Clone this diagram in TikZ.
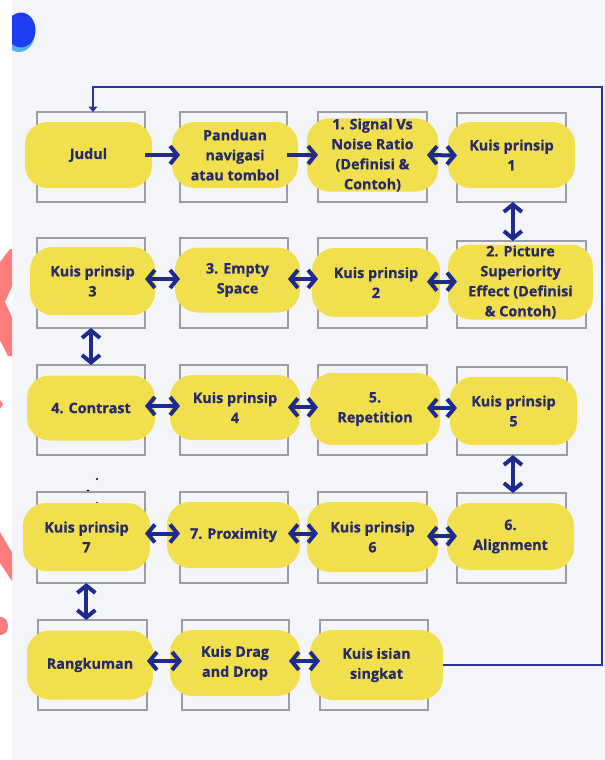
\documentclass[tikz,border=0pt]{standalone}
\usepackage{fontspec}
\setmainfont{Open Sans}
\newfontfamily\lblfont{Open Sans}[BoldFeatures={FakeBold=0.6}]
\usetikzlibrary{arrows.meta,calc}
\definecolor{bgc}{HTML}{F4F5F9}
\definecolor{blobc}{HTML}{F2DF4E}
\definecolor{framec}{HTML}{9C9CA4}
\definecolor{navy}{HTML}{1D2A8E}
\definecolor{loopc}{HTML}{27349A}
\definecolor{txtc}{HTML}{252A6A}
\definecolor{pinkc}{HTML}{FF7C7C}
\definecolor{blueb}{HTML}{1F3CF0}
\definecolor{lblue}{HTML}{58B0F2}
\tikzset{
  frame/.style 2 args={draw=framec, line width=0.9pt, minimum width=#1*0.75pt, minimum height=#2*0.75pt, inner sep=0pt, outer sep=0pt},
  blob/.style 2 args={fill=blobc, rounded corners=17pt, minimum width=#1*0.75pt, minimum height=#2*0.75pt, inner sep=0pt, align=center, text=txtc, font=\lblfont\fontsize{10.8}{15}\selectfont\bfseries},
  arr2/.style={draw=navy, line width=3pt, {Straight Barb[length=5.5pt,width=13.5pt]}-{Straight Barb[length=5.5pt,width=13.5pt]}},
  arr1/.style={draw=navy, line width=3pt, -{Straight Barb[length=5.5pt,width=13.5pt]}},
  loopline/.style={draw=loopc, line width=2.1pt, -{Triangle[length=4pt,width=6.5pt]}}
}
\begin{document}
\begin{tikzpicture}[x=0.75pt,y=-0.75pt]
\useasboundingbox (0,0) rectangle (605,760);
\fill[bgc] (0,0) rectangle (605,760);
\fill[white] (0,0) rectangle (12,760);
% screen artefacts
\begin{scope}
\clip (0,0) rectangle (12,760);
\fill[pinkc] (0,262) -- (10,249) -- (14,249) -- (14,282) -- (5,302) -- (14,322) -- (14,356) -- (8,356) -- (0,340) -- cycle;
\fill[pinkc] (0,400) -- (3,404) -- (0,409) -- cycle;
\fill[pinkc] (0,532) -- (14,556) -- (14,584) -- (0,563) -- cycle;
\fill[pinkc] (1,626) ellipse [x radius=7, y radius=9];
\end{scope}
\begin{scope}
\clip (12,0) rectangle (60,70);
\fill[lblue] (19,33) ellipse [x radius=16, y radius=19];
\fill[blueb] (21,30) ellipse [x radius=14.5, y radius=17.5];
\end{scope}
\fill[black] (97,479) circle [radius=1.2];
\fill[black] (88,491) circle [radius=1.7];
\fill[black] (97,503) circle [radius=1.2];

% frames
\node[frame={108}{90}] (fj) at (91,157) {};
\node[frame={107}{90}] (fp) at (233.5,157) {};
\node[frame={109}{90}] (fs) at (372.5,157) {};
\node[frame={109}{89}] (fk1) at (511.5,157.5) {};
\node[frame={108}{90}] (fk3) at (91,283) {};
\node[frame={108}{90}] (fe) at (234,283) {};
\node[frame={109}{90}] (fk2) at (372.5,283) {};
\node[frame={129}{87}] (fpi) at (521.5,284.5) {};
\node[frame={108}{90}] (fc) at (91,410) {};
\node[frame={108}{90}] (fk4) at (234,410) {};
\node[frame={109}{90}] (fr) at (372.5,410) {};
\node[frame={110}{88}] (fk5) at (512,411) {};
\node[frame={108}{91}] (fk7) at (91,537.5) {};
\node[frame={108}{91}] (fpx) at (234,537.5) {};
\node[frame={109}{91}] (fk6) at (372.5,537.5) {};
\node[frame={109}{90}] (fa) at (511.5,538) {};
\node[frame={109}{90}] (frk) at (92.5,665) {};
\node[frame={107}{90}] (fd) at (235.5,665) {};
\node[frame={108}{90}] (fi) at (374,665) {};

% blobs
\node[blob={127}{66}] (judul) at (88.5,155) {Judul};
\node[blob={126}{66}] (pand) at (235,155) {Panduan\\navigasi\\atau tombol};
\node[blob={131}{70}] (sig) at (372.5,155) {1. Signal Vs\\Noise Ratio\\(Definisi \&\\Contoh)};
\node[blob={127}{66}] (k1) at (511.5,155) {Kuis prinsip\\1};
\node[blob={125}{68}] (k3) at (92.5,281) {Kuis prinsip\\3};
\node[blob={125}{65}] (emp) at (237.5,280) {3. Empty\\Space};
\node[blob={128}{69}] (k2) at (376,282.5) {Kuis prinsip\\2};
\node[blob={145}{75}] (pic) at (520.5,282) {2. Picture\\Superiority\\Effect (Definisi\\\& Contoh)};
\node[blob={128}{65}] (con) at (91,408) {4. Contrast};
\node[blob={130}{65}] (k4) at (235,407.5) {Kuis prinsip\\4};
\node[blob={130}{72}] (rep) at (375,409) {5.\\Repetition};
\node[blob={127}{68}] (k5) at (513.5,411) {Kuis prinsip\\5};
\node[blob={127}{68}] (k7) at (86.5,537) {Kuis prinsip\\7};
\node[blob={133}{66}] (prox) at (233.5,535) {7. Proximity};
\node[blob={131}{70}] (k6) at (372.5,537) {Kuis prinsip\\6};
\node[blob={127}{67}] (ali) at (510.5,536.5) {6.\\Alignment};
\node[blob={126}{69}] (rang) at (90,665) {Rangkuman};
\node[blob={130}{66}] (drag) at (235,663) {Kuis Drag\\and Drop};
\node[blob={133}{70}] (isi) at (376.5,665) {Kuis isian\\singkat};

% horizontal connectors
\draw[arr1] ([yshift=1.5pt]fj.east) -- ([yshift=1.5pt]fp.west);
\draw[arr1] ([yshift=1.5pt]fp.east) -- ([yshift=1.5pt]fs.west);
\draw[arr2] ([yshift=1.5pt]fs.east) -- ([yshift=1.5pt]fk1.west);
\draw[arr2] ([yshift=3pt]fk3.east) -- ([yshift=3pt]fe.west);
\draw[arr2] ([yshift=3pt]fe.east) -- ([yshift=3pt]fk2.west);
\draw[arr2] ([yshift=1pt]fk2.east) -- ([yshift=1pt]fk2.east -| fpi.west);
\draw[arr2] ([yshift=3pt]fc.east) -- ([yshift=3pt]fk4.west);
\draw[arr2] ([yshift=2pt]fk4.east) -- ([yshift=2pt]fr.west);
\draw[arr2] ([yshift=1.5pt]fr.east) -- ([yshift=1.5pt]fr.east -| fk5.west);
\draw[arr2] ([yshift=3pt]fk7.east) -- ([yshift=3pt]fpx.west);
\draw[arr2] ([yshift=3pt]fpx.east) -- ([yshift=3pt]fk6.west);
\draw[arr2] ([yshift=1pt]fk6.east) -- ([yshift=1pt]fk6.east -| fa.west);
\draw[arr2] ([yshift=3pt]frk.east) -- ([yshift=3pt]fd.west);
\draw[arr2] ([yshift=3pt]fd.east) -- ([yshift=3pt]fi.west);

% vertical connectors
\draw[arr2] ([xshift=1pt]fk1.south) -- ([xshift=1pt]fk1.south |- fpi.north);
\draw[arr2] (fk3.south) -- (fc.north);
\draw[arr2] ([xshift=0.7pt]fk5.south) -- ([xshift=0.7pt]fk5.south |- fa.north);
\draw[arr2] ([xshift=-3.5pt]fk7.south) -- ([xshift=-3.5pt]fk7.south |- frk.north);

% loop back
\coordinate (c1) at (602,665);
\coordinate (c2) at (602,87);
\coordinate (c3) at (93,87);
\draw[loopline] (isi.east |- c1) -- (c1) -- (c2) -- (c3) -- (c3 |- fj.north);
\end{tikzpicture}
\end{document}
